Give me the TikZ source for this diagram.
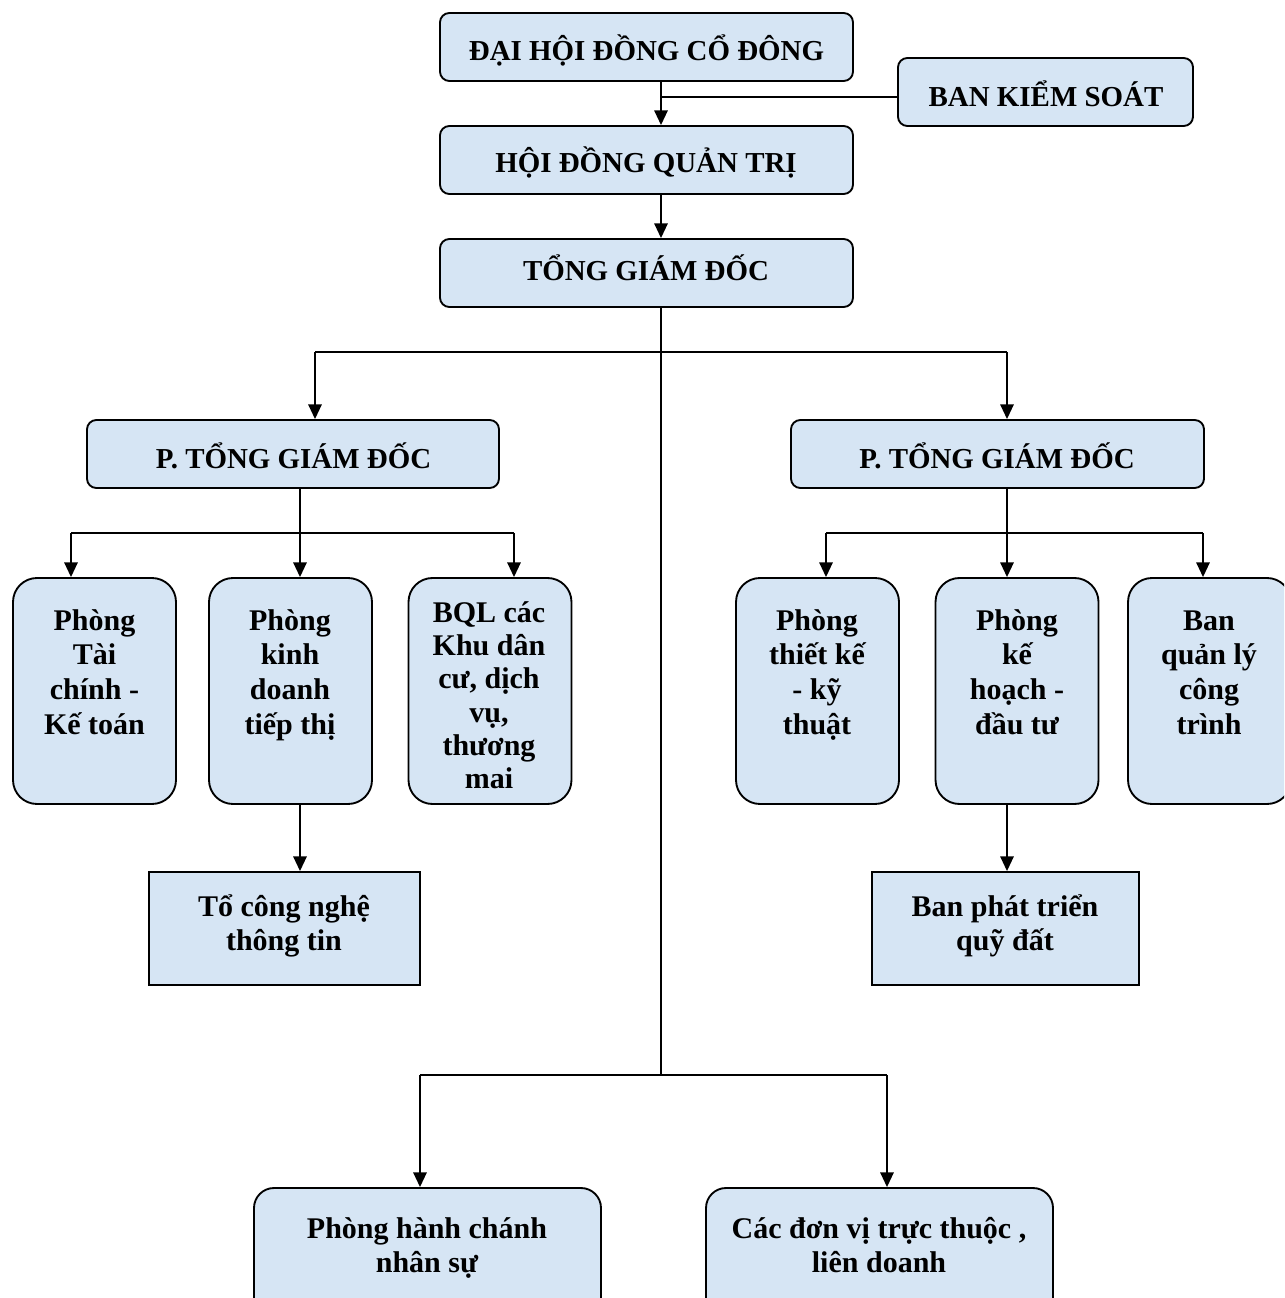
\documentclass[tikz,border=0pt]{standalone}
\usepackage{fontspec}
\setmainfont{Liberation Serif}
\usetikzlibrary{arrows.meta}
\definecolor{boxfill}{RGB}{214,229,244}
\begin{document}
\begin{tikzpicture}[x=0.75pt,y=-0.75pt,
  box/.style={draw=black, line width=1.4pt, fill=boxfill, rounded corners=7pt, inner sep=0pt},
  tall/.style={box, rounded corners=18pt},
  sqbox/.style={box, rounded corners=0pt},
  botbox/.style={box, rounded corners=15pt},
  sz/.style 2 args={minimum width=#1*0.75pt, minimum height=#2*0.75pt},
  txt/.style={anchor=base, inner sep=0pt, font=\bfseries\fontsize{22.5}{26}\selectfont},
  capt/.style={anchor=base, inner sep=0pt, font=\bfseries\fontsize{21.7}{26}\selectfont},
  txtb/.style={anchor=base, inner sep=0pt, font=\bfseries\fontsize{22.5}{25}\selectfont},
  conn/.style={line width=1.4pt},
  arr/.style={conn, -{Triangle[width=10pt,length=11pt]}}]
\path[use as bounding box] (0,0) rectangle (1284,1298);
\clip (0,0) rectangle (1284,1298);

% boxes
\node[box, sz={413}{68}] (dh) at (646.5,47) {};
\node[box, sz={295}{68}] (bks) at (1045.5,92) {};
\node[box, sz={413}{68}] (hd) at (646.5,160) {};
\node[box, sz={413}{68}] (tgd) at (646.5,273) {};
\node[box, sz={412}{68}] (ptl) at (293,454) {};
\node[box, sz={413}{68}] (ptr) at (997.5,454) {};
\node[tall, sz={163}{226}] (tc) at (94.5,691) {};
\node[tall, sz={163}{226}] (kd) at (290.5,691) {};
\node[tall, sz={163}{226}] (bql) at (490,691) {};
\node[tall, sz={163}{226}] (tk) at (817.5,691) {};
\node[tall, sz={163}{226}] (kh) at (1017,691) {};
\node[tall, sz={163}{226}] (bqlct) at (1209.5,691) {};
\node[sqbox, sz={271}{113}] (cntt) at (284.5,928.5) {};
\node[sqbox, sz={267}{113}] (bpt) at (1005.5,928.5) {};
\node[botbox, sz={347}{140}] (hc) at (427.5,1258) {};
\node[botbox, sz={347}{140}] (dv) at (879.5,1258) {};

% texts
\node[capt] (t-dh) at (646.5,61) {ĐẠI HỘI ĐỒNG CỔ ĐÔNG};
\node[capt] (t-bks) at (1046,107) {BAN KIỂM SOÁT};
\node[capt] (t-hd) at (646,173) {HỘI ĐỒNG QUẢN TRỊ};
\node[capt] (t-tgd) at (646,280) {TỔNG GIÁM ĐỐC};
\node[capt] (t-ptl) at (293.5,468) {P. TỔNG GIÁM ĐỐC};
\node[capt] (t-ptr) at (997,468) {P. TỔNG GIÁM ĐỐC};
\node[txt] (t-tc) at (94.5,630) {\begin{tabular}[t]{@{}c@{}}Phòng\\Tài\\chính -\\Kế toán\end{tabular}};
\node[txt] (t-kd) at (290,630) {\begin{tabular}[t]{@{}c@{}}Phòng\\kinh\\doanh\\tiếp thị\end{tabular}};
\node[txtb] (t-bql) at (489,622) {\begin{tabular}[t]{@{}c@{}}BQL các\\Khu dân\\cư, dịch\\vụ,\\thương\\mai\end{tabular}};
\node[txt] (t-tk) at (817,630) {\begin{tabular}[t]{@{}c@{}}Phòng\\thiết kế\\- kỹ\\thuật\end{tabular}};
\node[txt] (t-kh) at (1017,630) {\begin{tabular}[t]{@{}c@{}}Phòng\\kế\\hoạch -\\đầu tư\end{tabular}};
\node[txt] (t-bqlct) at (1209,630) {\begin{tabular}[t]{@{}c@{}}Ban\\quản lý\\công\\trình\end{tabular}};
\node[txt] (t-cntt) at (284,916) {\begin{tabular}[t]{@{}c@{}}Tổ công nghệ\\thông tin\end{tabular}};
\node[txt] (t-bpt) at (1005,916) {\begin{tabular}[t]{@{}c@{}}Ban phát triển\\quỹ đất\end{tabular}};
\node[txt] (t-hc) at (427,1238) {\begin{tabular}[t]{@{}c@{}}Phòng hành chánh\\nhân sự\end{tabular}};
\node[txt] (t-dv) at (879,1238) {\begin{tabular}[t]{@{}c@{}}Các đơn vị trực thuộc ,\\liên doanh\end{tabular}};

% helper coordinates
\coordinate (tx) at (661,0);
\coordinate (kx) at (661,97);
\coordinate (jB) at (661,1075);
\coordinate (lx) at (300,533);
\coordinate (rx) at (1007,533);

% connectors
\draw[arr] (dh.south -| tx) -- (hd.north -| tx);
\draw[conn] (bks.west |- kx) -- (kx);
\draw[arr] (hd.south -| tx) -- (tgd.north -| tx);
\draw[conn] (tgd.south -| tx) -- (jB);
\draw[conn] (315,352) coordinate (pl) -- (1007,352) coordinate (pr);
\draw[arr] (pl) -- (ptl.north -| pl);
\draw[arr] (pr) -- (ptr.north -| pr);
% left branch
\draw[conn] (ptl.south -| lx) -- (lx);
\draw[conn] (71,533) coordinate (l1) -- (514,533) coordinate (l3);
\draw[arr] (l1) -- (tc.north -| l1);
\draw[arr] (lx) -- (kd.north -| lx);
\draw[arr] (l3) -- (bql.north -| l3);
\draw[arr] (kd.south -| lx) -- (cntt.north -| lx);
% right branch
\draw[conn] (ptr.south -| rx) -- (rx);
\draw[conn] (826,533) coordinate (r1) -- (1203,533) coordinate (r3);
\draw[arr] (r1) -- (tk.north -| r1);
\draw[arr] (rx) -- (kh.north -| rx);
\draw[arr] (r3) -- (bqlct.north -| r3);
\draw[arr] (kh.south -| rx) -- (bpt.north -| rx);
% bottom
\draw[conn] (420,1075) coordinate (b1) -- (887,1075) coordinate (b2);
\draw[arr] (b1) -- (hc.north -| b1);
\draw[arr] (b2) -- (dv.north -| b2);
\end{tikzpicture}
\end{document}
